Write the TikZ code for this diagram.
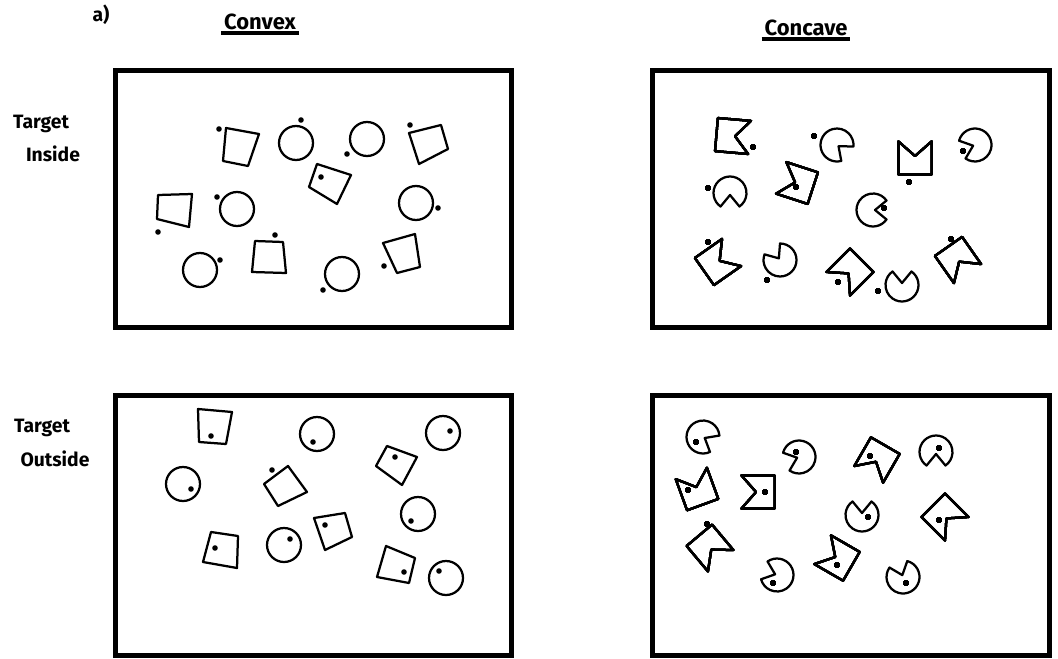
\documentclass[tikz,border=0pt]{standalone}
\usepackage{fontspec}
\setmainfont{Fira Sans}
\usepackage{tikz}
\usetikzlibrary{positioning, calc}

% shapes of the displays (image angles: 0 right, 90 down)
\newcommand{\pacman}[3]{% x, y, mouth direction
  \begin{scope}[shift={(#1,#2)}]
    \draw[item] (#3+35:16.5) arc[start angle=#3+35, end angle=#3+325, radius=16.5]
      -- (#3:2) -- cycle;
  \end{scope}
}
\newcommand{\notchsq}[3]{% x, y, notch direction
  \begin{scope}[shift={(#1,#2)}]
    \draw[item] (#3-45:23.5) -- (#3:2) -- (#3+45:23.5) -- (#3+135:23.5)
      -- (#3+225:23.5) -- cycle;
  \end{scope}
}

\begin{document}
\begin{tikzpicture}[
  x=0.02cm, y=-0.02cm,
  panel/.style={line width=0.1cm},
  item/.style={line width=0.045cm, line join=round},
  target/.style={fill=black},
  label/.style={font=\fontsize{11}{13}\selectfont\bfseries, inner sep=1pt},
  header/.style={font=\fontsize{12.5}{14}\selectfont\bfseries, inner sep=1.5pt},
]
  \useasboundingbox (0,0) rectangle (1058,659);

  % Headers
  \node[label] (tag) at (101,15) {a)};
  \node[header] (convex) at (260,22) {Convex};
  \node[header] (concave) at (806,28) {Concave};
  \draw[line width=0.07cm] (convex.south west) -- (convex.south east);
  \draw[line width=0.07cm] (concave.south west) -- (concave.south east);
  \node[label] (tin1) at (41,124) {Target};
  \node[label] (tin2) at (53,154) {Inside};
  \node[label] (tout1) at (42,428) {Target};
  \node[label] (tout2) at (55,459) {Outside};

  % Panels
  \draw[panel] (115,70) rectangle (511,327);
  \draw[panel] (652,70) rectangle (1049,327);
  \draw[panel] (115,395) rectangle (511,655);
  \draw[panel] (652,395) rectangle (1049,655);

  % Convex, target inside
  \foreach \x/\y in {296/143, 367/139, 237/209, 416/203, 200/270, 342/274}
    \draw[item] (\x,\y) circle[radius=17];
  \draw[item] (226,128) -- (259,134) -- (248,166) -- (223,161) -- cycle;
  \draw[item] (409,133) -- (441,125) -- (448,149) -- (419,164) -- cycle;
  \draw[item] (317,164) -- (351,175) -- (337,204) -- (309,187) -- cycle;
  \draw[item] (158,195) -- (192,194) -- (189,227) -- (157,219) -- cycle;
  \draw[item] (255,241) -- (283,242) -- (286,273) -- (252,272) -- cycle;
  \draw[item] (383,243) -- (415,234) -- (420,267) -- (397,273) -- cycle;
  \foreach \x/\y in {219/129, 301/120, 347/154, 410/125, 321/177, 158/232,
                     217/197, 438/208, 220/260, 275/235, 323/290, 384/266}
    \fill[target] (\x,\y) circle[radius=2.8];

  % Concave, target inside
  \foreach \x/\y/\a in {837/145/40, 975/145/160, 730/193/90, 873/210/0,
                        780/260/235, 902/285/270}
    \pacman{\x}{\y}{\a}
  \foreach \x/\y/\a in {733/136/5, 915/158/270, 797/183/198, 718/262/325,
                        850/272/135, 958/260/55}
    \notchsq{\x}{\y}{\a}
  \foreach \x/\y in {753/147, 814/136, 909/182, 963/151, 708/188, 796/187,
                     884/208, 708/242, 767/280, 838/282, 878/291, 951/239}
    \fill[target] (\x,\y) circle[radius=2.8];

  % Convex, target outside
  \foreach \x/\y in {317/434, 443/433, 183/484, 418/514, 284/545, 446/578}
    \draw[item] (\x,\y) circle[radius=17];
  \draw[item] (198,409) -- (232,412) -- (226,444) -- (199,442) -- cycle;
  \draw[item] (264,484) -- (288,466) -- (307,492) -- (278,506) -- cycle;
  \draw[item] (376,466) -- (387,446) -- (417,457) -- (402,485) -- cycle;
  \draw[item] (211,532) -- (238,536) -- (237,568) -- (203,562) -- cycle;
  \draw[item] (314,518) -- (345,513) -- (352,537) -- (325,550) -- cycle;
  \draw[item] (386,546) -- (415,558) -- (409,583) -- (377,577) -- cycle;
  \foreach \x/\y in {211/436, 313/442, 450/431, 191/489, 272/470, 395/457,
                     411/521, 215/548, 290/539, 325/525, 404/572, 439/571}
    \fill[target] (\x,\y) circle[radius=2.8];

  % Concave, target outside
  \foreach \x/\y/\a in {703/437/30, 799/457/160, 936/452/90, 862/515/270,
                        777/575/200, 903/577/250}
    \pacman{\x}{\y}{\a}
  \foreach \x/\y/\a in {697/489/250, 758/492/180, 877/460/120, 945/517/45,
                        710/548/50, 837/558/210}
    \notchsq{\x}{\y}{\a}
  \foreach \x/\y in {696/442, 688/490, 765/492, 796/452, 870/456, 939/448,
                     868/517, 939/520, 707/524, 773/583, 837/565, 906/583}
    \fill[target] (\x,\y) circle[radius=2.8];
\end{tikzpicture}
\end{document}
